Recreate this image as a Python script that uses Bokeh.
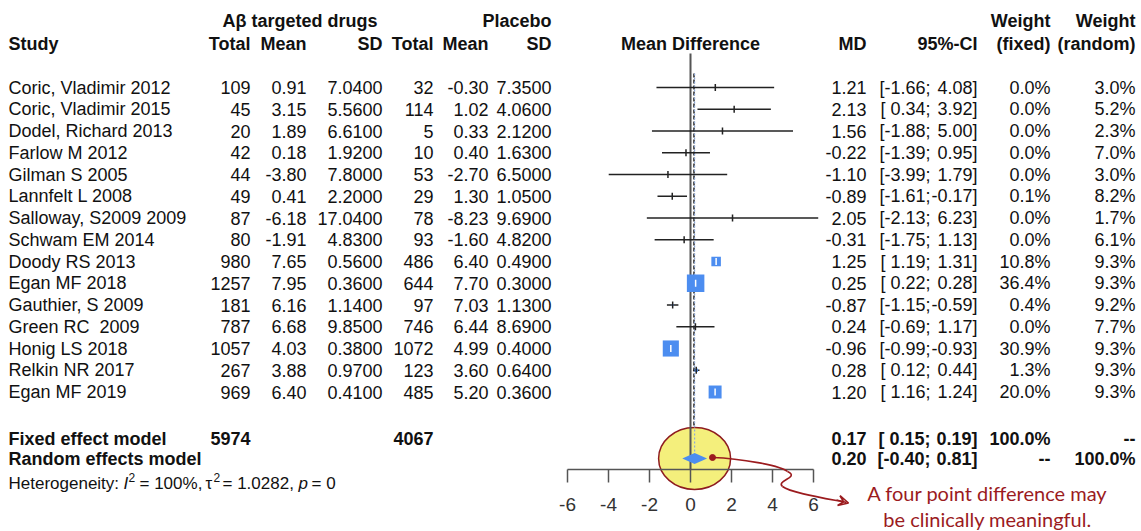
import math
from bokeh.plotting import figure
from bokeh.models import Range1d, Arrow, VeeHead
from bokeh.core.properties import value
from bokeh.embed import file_html
from bokeh.resources import INLINE

# ---------------- data ----------------
studies = ["Coric, Vladimir 2012", "Coric, Vladimir 2015", "Dodel, Richard 2013", "Farlow M 2012",
           "Gilman S 2005", "Lannfelt L 2008", "Salloway, S2009 2009", "Schwam EM 2014",
           "Doody RS 2013", "Egan MF 2018", "Gauthier, S 2009", "Green RC  2009",
           "Honig LS 2018", "Relkin NR 2017", "Egan MF 2019"]
drug_total = [109, 45, 20, 42, 44, 49, 87, 80, 980, 1257, 181, 787, 1057, 267, 969]
drug_mean = [0.91, 3.15, 1.89, 0.18, -3.80, 0.41, -6.18, -1.91, 7.65, 7.95, 6.16, 6.68, 4.03, 3.88, 6.40]
drug_sd = [7.04, 5.56, 6.61, 1.92, 7.80, 2.20, 17.04, 4.83, 0.56, 0.36, 1.14, 9.85, 0.38, 0.97, 0.41]
pl_total = [32, 114, 5, 10, 53, 29, 78, 93, 486, 644, 97, 746, 1072, 123, 485]
pl_mean = [-0.30, 1.02, 0.33, 0.40, -2.70, 1.30, -8.23, -1.60, 6.40, 7.70, 7.03, 6.44, 4.99, 3.60, 5.20]
pl_sd = [7.35, 4.06, 2.12, 1.63, 6.50, 1.05, 9.69, 4.82, 0.49, 0.30, 1.13, 8.69, 0.40, 0.64, 0.36]
md = [1.21, 2.13, 1.56, -0.22, -1.10, -0.89, 2.05, -0.31, 1.25, 0.25, -0.87, 0.24, -0.96, 0.28, 1.20]
ci_lo = [-1.66, 0.34, -1.88, -1.39, -3.99, -1.61, -2.13, -1.75, 1.19, 0.22, -1.15, -0.69, -0.99, 0.12, 1.16]
ci_hi = [4.08, 3.92, 5.00, 0.95, 1.79, -0.17, 6.23, 1.13, 1.31, 0.28, -0.59, 1.17, -0.93, 0.44, 1.24]
w_fixed = [0.0, 0.0, 0.0, 0.0, 0.0, 0.1, 0.0, 0.0, 10.8, 36.4, 0.4, 0.0, 30.9, 1.3, 20.0]
w_random = [3.0, 5.2, 2.3, 7.0, 3.0, 8.2, 1.7, 6.1, 9.3, 9.3, 9.2, 7.7, 9.3, 9.3, 9.3]

fixed_label = "Fixed effect model"
random_label = "Random effects model"
fixed_total_drug, fixed_total_pl = 5974, 4067
fixed_md, fixed_lo, fixed_hi = 0.17, 0.15, 0.19
random_md, random_lo, random_hi = 0.20, -0.40, 0.81
axis_ticks = [-6, -4, -2, 0, 2, 4, 6]
annotation_lines = ["A four point difference may", "be clinically meaningful."]

# ---------------- layout constants ----------------
W, H = 1141, 531
ZERO_PX, PX_PER_UNIT = 690.0, 20.5
ROW0, ROW_STEP = 87.0, 21.75
Y_FIXED, Y_RANDOM, Y_HET = 438.0, 458.0, 483.0
Y_HEAD1, Y_HEAD2 = 20.0, 43.0
Y_AXIS, TICK_LEN, Y_TICKLAB = 469.0, 13.0, 504.0
TXT = "#111111"
BLUE = "#4c8df0"
RED = "#9b1b1e"
FONT = "Liberation Sans"

p = figure(width=W, height=H, x_range=Range1d(0, W), y_range=Range1d(H, 0),
           output_backend="svg", toolbar_location=None, min_border=0,
           x_axis_location=None, y_axis_location=None)
p.grid.visible = False
p.outline_line_color = None
p.background_fill_color = "white"
p.extra_x_ranges = {"md": Range1d(start=(0 - ZERO_PX) / PX_PER_UNIT, end=(W - ZERO_PX) / PX_PER_UNIT)}

rows = [ROW0 + ROW_STEP * i for i in range(len(studies))]


def txt(xs, ys, texts, align="right", style="normal", size="18px", color=TXT, font=FONT, **kw):
    p.text(x=xs, y=ys, text=texts, text_align=align, text_baseline="middle",
           text_font=value(font), text_font_size=size, text_font_style=style,
           text_color=color, **kw)


def col(x, vals):
    return [x] * len(vals)


def ci_l(v):
    return "[" + (f"{v:.2f}" if v < 0 else "\u00a0" + f"{v:.2f}") + ";"


# ---------------- headers ----------------
txt([377], [Y_HEAD1], ["Aβ targeted drugs"], style="bold")
txt([551], [Y_HEAD1], ["Placebo"], style="bold")
txt([1050, 1135], [Y_HEAD1, Y_HEAD1], ["Weight", "Weight"], style="bold")
txt([8], [Y_HEAD2], ["Study"], align="left", style="bold")
hx = [250, 306, 382, 433, 488, 551, 866, 977, 1050, 1135]
ht = ["Total", "Mean", "SD", "Total", "Mean", "SD", "MD", "95%-CI", "(fixed)", "(random)"]
txt(hx, [Y_HEAD2] * len(hx), ht, style="bold")
txt([ZERO_PX], [Y_HEAD2], ["Mean Difference"], align="center", style="bold")

# ---------------- study rows ----------------
txt(col(8, studies), rows, [s.replace("  ", " \u00a0") for s in studies], align="left")
txt(col(250, rows), rows, [str(v) for v in drug_total])
txt(col(306, rows), rows, [f"{v:.2f}" for v in drug_mean])
txt(col(382, rows), rows, [f"{v:.4f}" for v in drug_sd])
txt(col(433, rows), rows, [str(v) for v in pl_total])
txt(col(488, rows), rows, [f"{v:.2f}" for v in pl_mean])
txt(col(551, rows), rows, [f"{v:.4f}" for v in pl_sd])
txt(col(866, rows), rows, [f"{v:.2f}" for v in md])
txt(col(930, rows), rows, [ci_l(v) for v in ci_lo])
txt(col(977, rows), rows, [f"{v:.2f}]" for v in ci_hi])
txt(col(1050, rows), rows, [f"{v:.1f}%" for v in w_fixed])
txt(col(1135, rows), rows, [f"{v:.1f}%" for v in w_random])

# ---------------- summary rows ----------------
sy = [Y_FIXED, Y_RANDOM]
txt([8, 8], sy, [fixed_label, random_label], align="left", style="bold")
txt([250, 433], [Y_FIXED, Y_FIXED], [str(fixed_total_drug), str(fixed_total_pl)], style="bold")
txt([866, 866], sy, [f"{fixed_md:.2f}", f"{random_md:.2f}"], style="bold")
txt([930, 930], sy, [ci_l(fixed_lo), ci_l(random_lo)], style="bold")
txt([977, 977], sy, [f"{fixed_hi:.2f}]", f"{random_hi:.2f}]"], style="bold")
txt([1050, 1050], sy, ["100.0%", "--"], style="bold")
txt([1135, 1135], sy, ["--", "100.0%"], style="bold")

# heterogeneity line (pieces)
HS = "17px"
txt([8], [Y_HET], ["Heterogeneity:"], align="left", size=HS)
txt([123, 298], [Y_HET, Y_HET], ["I", "p"], align="left", size=HS, style="italic")
txt([128, 213], [Y_HET - 6, Y_HET - 6], ["2", "2"], align="left", size="12px")
txt([139, 205, 222, 311], [Y_HET] * 4, ["= 100%,", "τ", "= 1.0282,", "= 0"], align="left", size=HS)

# ---------------- forest plot ----------------
# fixed-effect diamond (small)
p.patches(xs=[[fixed_lo, fixed_md, fixed_hi, fixed_md]],
          ys=[[Y_FIXED, Y_FIXED - 5, Y_FIXED, Y_FIXED + 5]],
          fill_color=BLUE, line_color=None, x_range_name="md")

# fixed-effect dashed line
p.segment(x0=[fixed_md], y0=[rows[0] - 14], x1=[fixed_md], y1=[Y_FIXED + 8],
          line_color="#222222", line_width=1.5, line_dash="4 2", x_range_name="md")

# highlight ellipse around random effects estimate
p.ellipse(x=[random_md], y=[Y_RANDOM], width=72, height=62, width_units="screen",
          height_units="screen", fill_color="#f4ef7c", line_color="#8e1b1f",
          line_width=1.5, x_range_name="md")

# line of no effect
p.segment(x0=[0], y0=[53], x1=[0], y1=[Y_AXIS], line_color="#555555", line_width=2,
          x_range_name="md")

# random-effects dotted line
p.segment(x0=[random_md], y0=[rows[0] - 14], x1=[random_md], y1=[Y_RANDOM - 5],
          line_color="#8fa9d8", line_width=1.2, line_dash="2 2", x_range_name="md")

# CI lines
p.segment(x0=ci_lo, y0=rows, x1=ci_hi, y1=rows, line_color="#222222", line_width=1.5,
          x_range_name="md")

# squares (area ~ fixed weight)
sizes = [2.9 * math.sqrt(w) for w in w_fixed]
p.scatter(x=md, y=rows, size=sizes, marker="square", fill_color=BLUE, line_color=None,
          x_range_name="md")

# point estimate ticks
tick_col = ["white" if s >= 8 else "#222222" for s in sizes]
p.segment(x0=md, y0=[r - 3.5 for r in rows], x1=md, y1=[r + 3.5 for r in rows],
          line_color=tick_col, line_width=1.5, x_range_name="md")

# random-effects diamond
p.patches(xs=[[random_lo, random_md, random_hi, random_md]],
          ys=[[Y_RANDOM, Y_RANDOM - 5.5, Y_RANDOM, Y_RANDOM + 5.5]],
          fill_color=BLUE, line_color=None, x_range_name="md")

# axis
p.segment(x0=[axis_ticks[0]], y0=[Y_AXIS], x1=[axis_ticks[-1]], y1=[Y_AXIS],
          line_color="#555555", line_width=1.5, x_range_name="md")
p.segment(x0=axis_ticks, y0=[Y_AXIS] * len(axis_ticks), x1=axis_ticks,
          y1=[Y_AXIS + TICK_LEN] * len(axis_ticks), line_color="#555555", line_width=1.5,
          x_range_name="md")
txt(axis_ticks, [Y_TICKLAB] * len(axis_ticks), [str(t) for t in axis_ticks], align="center",
    size="19px", color="#333333", x_range_name="md")

# ---------------- annotation ----------------
p.scatter(x=[712], y=[457], size=6, marker="circle", fill_color=RED, line_color=RED)
p.bezier(x0=[712, 787, 782], y0=[457, 471, 486], x1=[787, 782, 846], y1=[471, 486, 502],
         cx0=[740, 800, 790], cy0=[458, 477, 492], cx1=[780, 775, 820], cy1=[465, 480, 497],
         line_color=RED, line_width=1.6)
p.add_layout(Arrow(end=VeeHead(size=10, line_color=RED, line_width=1.6, fill_color=None),
                   x_start=836, y_start=499.5, x_end=848, y_end=502.5,
                   line_color=RED, line_width=1.6))
txt([987, 987], [492, 518], annotation_lines, align="center", size="20px", color=RED,
    font="Lato")

open("out.html", "w").write(file_html(p, INLINE))
